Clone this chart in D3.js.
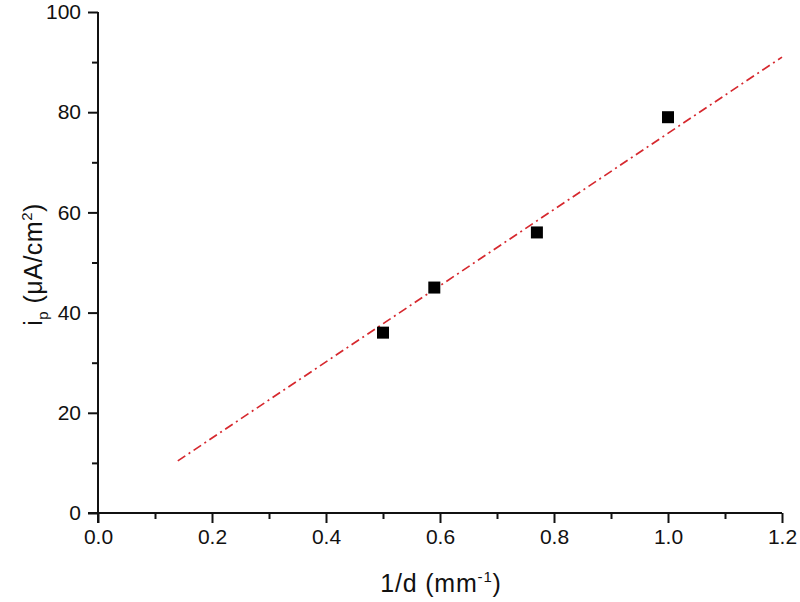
<!DOCTYPE html>
<html><head><meta charset="utf-8">
<script src="https://cdn.jsdelivr.net/npm/d3@7"></script>
<style>body{margin:0;background:#fff}svg{display:block}text{font-family:"Liberation Sans",Arial,sans-serif;fill:#111}</style>
</head><body>
<svg id="c" width="800" height="602"></svg>
<script>
const xData = [0.5, 0.59, 0.77, 1.0];
const yData = [36, 45, 56, 79];
const fitX = [0.14, 1.2];
const fitY = [10.4, 91.0];
const xTicks = [0.0, 0.2, 0.4, 0.6, 0.8, 1.0, 1.2];
const yTicks = [0, 20, 40, 60, 80, 100];

const svg = d3.select("#c");
const L = 98, R = 782, T = 12, B = 513;
const x = d3.scaleLinear().domain([0, 1.2]).range([L, R]);
const y = d3.scaleLinear().domain([0, 100]).range([B, T]);

const xMinor = d3.range(0.1, 1.2, 0.2);
const yMinor = d3.range(10, 100, 20);

const gx = svg.append("g").attr("transform", `translate(0,${B})`)
  .call(d3.axisBottom(x).tickValues(xTicks).tickFormat(d3.format(".1f")).tickSize(10).tickPadding(6).tickSizeOuter(0));
const gy = svg.append("g").attr("transform", `translate(${L},0)`)
  .call(d3.axisLeft(y).tickValues(yTicks).tickFormat(d3.format("d")).tickSize(10).tickPadding(7).tickSizeOuter(0));
svg.append("g").attr("transform", `translate(0,${B})`)
  .call(d3.axisBottom(x).tickValues(xMinor).tickFormat("").tickSize(6).tickSizeOuter(0))
  .select(".domain").remove();
svg.append("g").attr("transform", `translate(${L},0)`)
  .call(d3.axisLeft(y).tickValues(yMinor).tickFormat("").tickSize(6).tickSizeOuter(0))
  .select(".domain").remove();

svg.selectAll("g").attr("font-size", 21).attr("font-family", '"Liberation Sans",Arial,sans-serif');
svg.selectAll(".domain, .tick line").attr("stroke", "#111").attr("stroke-width", 2);
svg.selectAll(".tick text").attr("fill", "#111");
gx.select(".domain").attr("d", `M${L - 10},0H${R}`);
gy.select(".domain").attr("d", `M0,${T}V${B + 10}`);

// fit line
svg.append("path")
  .datum(fitX.map((d, i) => [d, fitY[i]]))
  .attr("d", d3.line().x(d => x(d[0])).y(d => y(d[1])))
  .attr("fill", "none").attr("stroke", "#d6282e").attr("stroke-width", 1.7)
  .attr("stroke-dasharray", "9,4,2,4");

// squares
const s = 12;
svg.selectAll("rect.pt").data(xData).enter().append("rect")
  .attr("x", d => x(d) - s / 2)
  .attr("y", (d, i) => y(yData[i]) - s / 2)
  .attr("width", s).attr("height", s).attr("fill", "#000");

// axis titles
const xt = svg.append("text").attr("x", 441).attr("y", 592).attr("text-anchor", "middle").attr("font-size", 25).attr("letter-spacing", 0.8);
xt.append("tspan").text("1/d (mm");
xt.append("tspan").attr("dy", -10).attr("font-size", 15).text("-1");
xt.append("tspan").attr("dy", 10).text(")");

const yt = svg.append("text").attr("transform", `translate(42,${(T + B) / 2 + 2}) rotate(-90)`).attr("text-anchor", "middle").attr("font-size", 25).attr("letter-spacing", 0.5);
yt.append("tspan").text("i");
yt.append("tspan").attr("dy", 6).attr("font-size", 15).text("p");
yt.append("tspan").attr("dy", -6).text(" (μA/cm");
yt.append("tspan").attr("dy", -10).attr("font-size", 15).text("2");
yt.append("tspan").attr("dy", 10).text(")");
</script>
</body></html>
